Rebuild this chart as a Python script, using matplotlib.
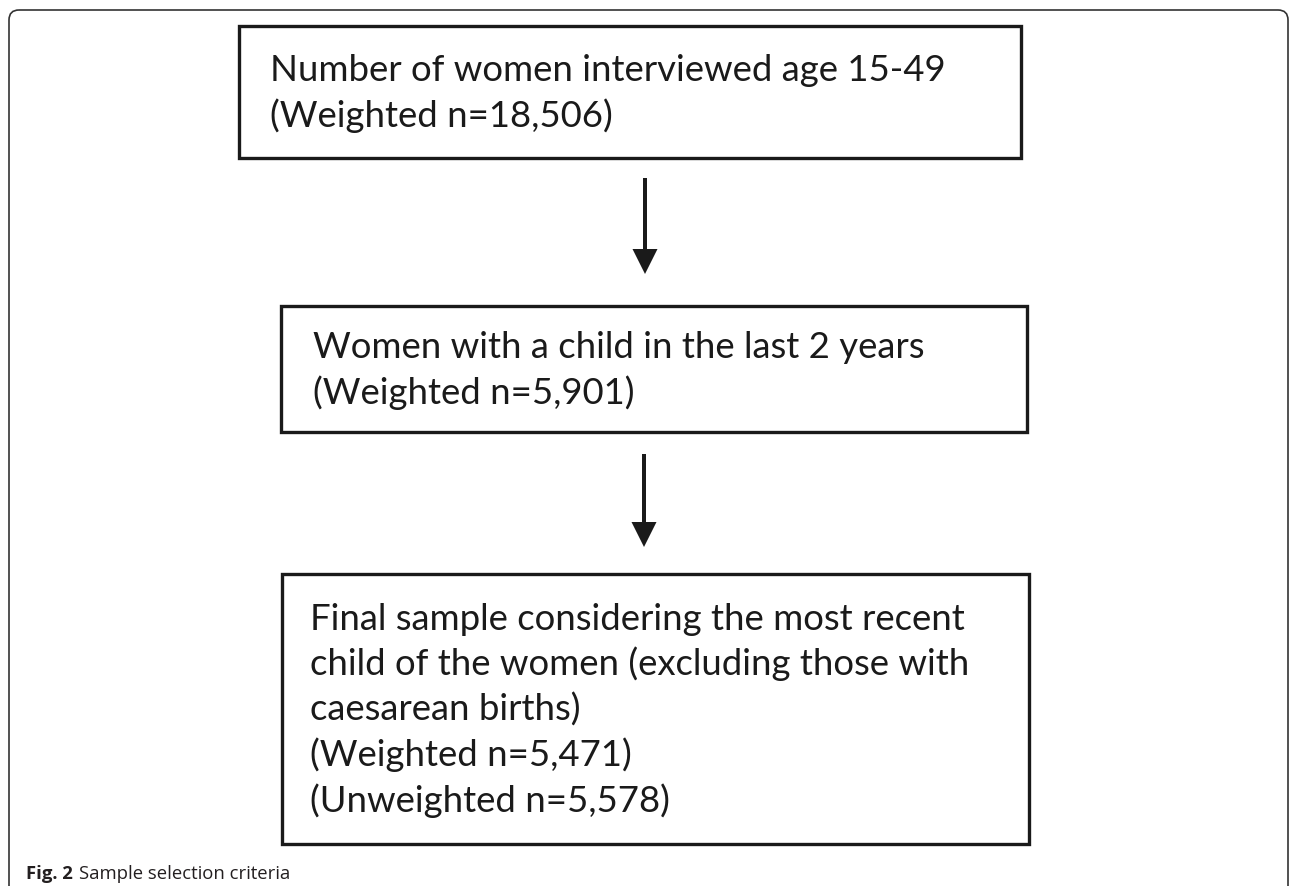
import matplotlib
matplotlib.use("Agg")
import matplotlib.pyplot as plt
from matplotlib.patches import FancyBboxPatch, Rectangle

# flowchart content
BOX_LINES = [
    ["Number of women interviewed age 15-49", "(Weighted n=18,506)"],
    ["Women with a child in the last 2 years", "(Weighted n=5,901)"],
    [
        "Final sample considering the most recent",
        "child of the women (excluding those with",
        "caesarean births)",
        "(Weighted n=5,471)",
        "(Unweighted n=5,578)",
    ],
]
CAPTION_BOLD = "Fig. 2"
CAPTION_TEXT = "Sample selection criteria"

# layout in pixels (left, top, right, bottom)
BOXES = [(239, 27, 1021, 159), (281, 307, 1027, 433), (282, 575, 1029, 845)]
TEXT_X = [270, 313, 310]
ARROWS = [(645, 179, 275), (644, 455, 548)]
LINE_STEP = 45.5
EDGE = "#1a1a1a"

W, H = 1290, 887
fig = plt.figure(figsize=(W / 100, H / 100), dpi=100)
ax = fig.add_axes([0, 0, 1, 1])
ax.set_xlim(0, W)
ax.set_ylim(H, 0)
ax.axis("off")

# outer rounded frame (open at bottom)
frame = FancyBboxPatch((9, 11), 1279, 950, boxstyle="round,pad=0,rounding_size=10",
                       fill=False, ec="#333333", lw=1.2)
ax.add_patch(frame)

for (x0, y0, x1, y1), tx, lines in zip(BOXES, TEXT_X, BOX_LINES):
    ax.add_patch(Rectangle((x0, y0), x1 - x0, y1 - y0, fill=False, ec=EDGE, lw=2.4))
    cy = (y0 + y1) / 2
    n = len(lines)
    for i, line in enumerate(lines):
        by = cy - (n - 1) / 2 * LINE_STEP + i * LINE_STEP + 11
        ax.text(tx, by, line, family=["Lato", "DejaVu Sans"], fontsize=26.3,
                color="#1a1a1a", ha="left", va="baseline")

for x, ya, yb in ARROWS:
    ax.arrow(x, ya, 0, yb - ya, width=4, head_width=25, head_length=25,
             length_includes_head=True, color=EDGE, lw=0)

t = ax.text(26, 879, CAPTION_BOLD, family=["Open Sans", "DejaVu Sans"], fontweight="bold",
            fontsize=13.3, color="#231f20", ha="left", va="baseline")
fig.canvas.draw()
bb = t.get_window_extent()
ax.text(26 + bb.width + 6, 879, CAPTION_TEXT, family=["Open Sans", "DejaVu Sans"],
        fontsize=13.3, color="#231f20", ha="left", va="baseline")

fig.savefig("out.png", dpi=100)
